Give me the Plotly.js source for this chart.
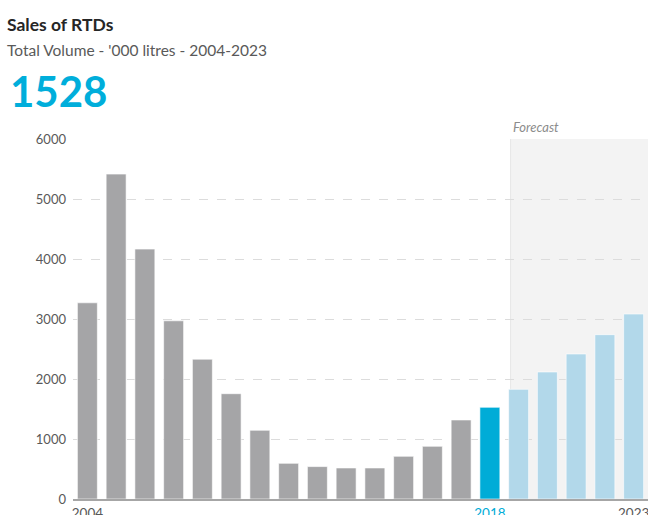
<!DOCTYPE html>
<html>
<head>
<meta charset="utf-8">
<script src="https://cdn.plot.ly/plotly-3.0.1.min.js"></script>
<style>html,body{margin:0;padding:0;background:#fff;}#chart{width:648px;height:515px;}</style>
</head>
<body>
<div id="chart"></div>
<script>
const years = ['2004','2005','2006','2007','2008','2009','2010','2011','2012','2013','2014','2015','2016','2017','2018','2019','2020','2021','2022','2023'];
const volumes = [3270, 5415, 4165, 2970, 2330, 1755, 1145, 595, 540, 517, 517, 711, 878, 1317, 1528, 1828, 2117, 2417, 2739, 3083];
const status = ['actual','actual','actual','actual','actual','actual','actual','actual','actual','actual','actual','actual','actual','actual','current','forecast','forecast','forecast','forecast','forecast'];
const tickYears = ['2004','2018','2023'];
const tickLabels = ['2004','<span style="color:#00acd7">2018</span>','2023'];
const titleText = 'Sales of RTDs';
const subtitleText = "Total Volume - '000 litres - 2004-2023";
const headline = '1528';
const forecastLabel = 'Forecast';

const palette = {actual:'#a5a5a7', current:'#00acd7', forecast:'#b2d8ea'};
const colors = status.map(s => palette[s]);
const firstForecast = status.indexOf('forecast');

const trace = {
  type:'bar', x: years, y: volumes,
  marker:{color: colors, line:{color:'#ffffff', width:0.6}},
  hoverinfo:'x+y'
};

const layout = {
  width:648, height:515,
  margin:{l:73, r:0, t:139, b:16},
  paper_bgcolor:'#ffffff', plot_bgcolor:'rgba(0,0,0,0)',
  font:{family:'Lato, "Open Sans", sans-serif', color:'#595959', size:13},
  bargap:0.306,
  showlegend:false,
  xaxis:{
    type:'category', range:[-0.5, 19.5],
    tickmode:'array', tickvals: tickYears, ticktext: tickLabels,
    showgrid:false, zeroline:false,
    showline:true, linecolor:'#a6a6a6', linewidth:2,
    ticks:'', tickfont:{size:13.5, color:'#595959'}, ticklabelstandoff:1
  },
  yaxis:{
    range:[0, 6000], tickvals:[0,1000,2000,3000,4000,5000,6000],
    showgrid:true, gridcolor:'#dcdcdc', griddash:'dash', gridwidth:1,
    zeroline:false, showline:false, ticks:'',
    tickfont:{size:13, color:'#595959'}, ticklabelstandoff:6
  },
  shapes:[{
    type:'rect', layer:'below', xref:'x', yref:'y',
    x0: firstForecast - 0.28, x1: 20, y0: 0, y1: 6000,
    fillcolor:'#f3f3f3', line:{width:0}
  },{
    type:'line', layer:'below', xref:'x', yref:'y',
    x0: firstForecast - 0.28, x1: firstForecast - 0.28, y0: 0, y1: 6000,
    line:{color:'#e6e6e6', width:1}
  }],
  annotations:[
    {text:'<b>'+titleText+'</b>', xref:'paper', yref:'paper', x:-0.118, y:1.318, xanchor:'left', yanchor:'middle', showarrow:false, font:{size:17.5, color:'#262626'}},
    {text:subtitleText, xref:'paper', yref:'paper', x:-0.118, y:1.247, xanchor:'left', yanchor:'middle', showarrow:false, font:{size:15.5, color:'#595959'}},
    {text:'<b>'+headline+'</b>', xref:'paper', yref:'paper', x:-0.113, y:1.133, xanchor:'left', yanchor:'middle', showarrow:false, font:{size:42, color:'#00aedb'}},
    {text:'<i>'+forecastLabel+'</i>', xref:'x', yref:'paper', x:15.6, y:1.033, xanchor:'center', yanchor:'middle', showarrow:false, font:{size:13, color:'#8c8c8c'}}
  ]
};

Plotly.newPlot('chart', [trace], layout, {displayModeBar:false, staticPlot:true});
</script>
</body>
</html>
